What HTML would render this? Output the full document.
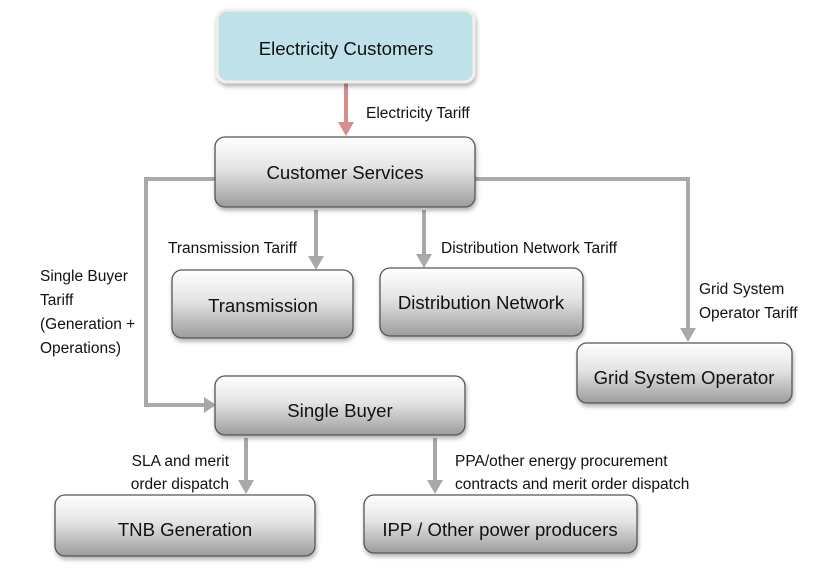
<!DOCTYPE html>
<html><head><meta charset="utf-8"><style>
html,body{margin:0;padding:0;background:#fff;}
svg{display:block;}
text{font-family:"Liberation Sans",Arial,sans-serif;fill:#111;}
.b{font-size:18.6px;text-anchor:middle;}
.l{font-size:15.5px;}
</style></head><body>
<svg width="817" height="568" viewBox="0 0 817 568" xmlns="http://www.w3.org/2000/svg">
<defs>
<linearGradient id="g" x1="0" y1="0" x2="0" y2="1">
<stop offset="0" stop-color="#ffffff"/><stop offset="0.45" stop-color="#e4e4e4"/><stop offset="1" stop-color="#9c9c9c"/>
</linearGradient>
<filter id="s" x="-10%" y="-10%" width="120%" height="130%"><feDropShadow dx="1" dy="3" stdDeviation="2" flood-color="#000" flood-opacity="0.3"/></filter>
</defs>
<g fill="none" stroke="#a9a9a9" stroke-width="4">
<polyline points="215,179 146,179 146,405 205,405"/>
<polyline points="475,179 688,179 688,330"/>
<line x1="316" y1="210" x2="316" y2="258"/>
<line x1="424" y1="210" x2="424" y2="256"/>
<line x1="246" y1="438" x2="246" y2="482"/>
<line x1="435" y1="438" x2="435" y2="482"/>
</g>
<line x1="346" y1="82" x2="346" y2="124" stroke="#d98d8d" stroke-width="4"/>
<g fill="#a9a9a9">
<polygon points="204,397 216,405 204,413"/>
<polygon points="680,328 696,328 688,342"/>
<polygon points="308,256 324,256 316,270"/>
<polygon points="416,254 432,254 424,268"/>
<polygon points="238,480 254,480 246,494"/>
<polygon points="427,480 443,480 435,494"/>
</g>
<polygon points="338,122 354,122 346,136" fill="#d98d8d"/>
<rect x="217" y="10" width="257" height="72" rx="10" fill="#bfe1ea" stroke="#f3efe9" stroke-width="3" filter="url(#s)"/>
<g fill="url(#g)" stroke="#555" stroke-width="1.3" filter="url(#s)">
<rect x="215" y="137" width="260" height="70" rx="10"/>
<rect x="172" y="270" width="181" height="68" rx="10"/>
<rect x="380" y="268" width="203" height="68" rx="10"/>
<rect x="577" y="343" width="215" height="60" rx="10"/>
<rect x="215" y="376" width="250" height="59" rx="10"/>
<rect x="55" y="495" width="260" height="61" rx="10"/>
<rect x="364" y="495" width="273" height="58" rx="10"/>
</g>
<text class="b" x="346" y="55">Electricity Customers</text>
<text class="b" x="345" y="179">Customer Services</text>
<text class="b" x="263" y="312">Transmission</text>
<text class="b" x="481" y="309">Distribution Network</text>
<text class="b" x="684" y="384">Grid System Operator</text>
<text class="b" x="340" y="417">Single Buyer</text>
<text class="b" x="185" y="536">TNB Generation</text>
<text class="b" x="500" y="536">IPP / Other power producers</text>
<text class="l" x="366" y="118">Electricity Tariff</text>
<text class="l" x="168" y="253">Transmission Tariff</text>
<text class="l" x="441" y="253">Distribution Network Tariff</text>
<text class="l" x="699" y="294">Grid System</text>
<text class="l" x="699" y="318">Operator Tariff</text>
<text class="l" x="40" y="281">Single Buyer</text>
<text class="l" x="40" y="305">Tariff</text>
<text class="l" x="40" y="329">(Generation +</text>
<text class="l" x="40" y="353">Operations)</text>
<text class="l" x="229" y="466" text-anchor="end">SLA and merit</text>
<text class="l" x="229" y="489" text-anchor="end">order dispatch</text>
<text class="l" x="455" y="466">PPA/other energy procurement</text>
<text class="l" x="455" y="489">contracts and merit order dispatch</text>
</svg>
</body></html>
